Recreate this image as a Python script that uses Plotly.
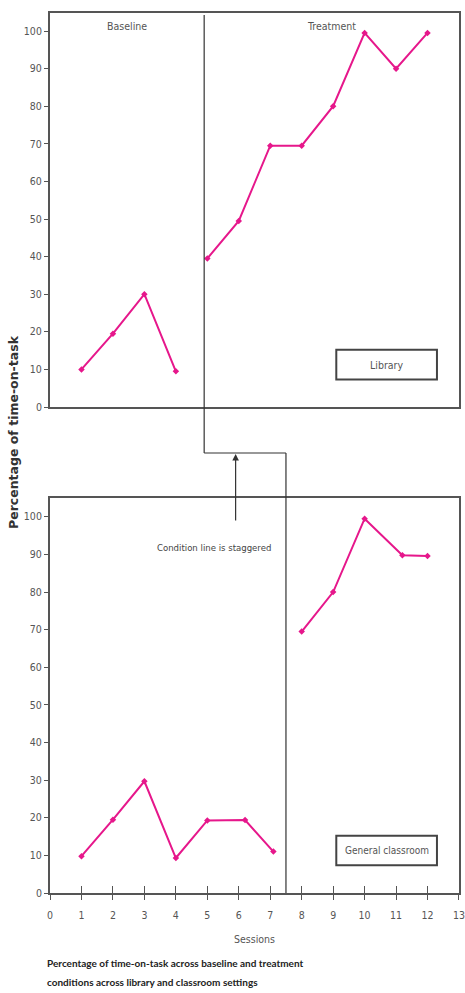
import plotly.graph_objects as go

# ---------------- data ----------------
sessions_lib_base = [1, 2, 3, 4]
values_lib_base = [10, 19.5, 30, 9.5]
sessions_lib_treat = [5, 6, 7, 8, 9, 10, 11, 12]
values_lib_treat = [39.5, 49.5, 69.5, 69.5, 80, 99.5, 90, 99.5]

sessions_cls_base = [1, 2, 3, 4, 5, 6.2, 7.1]
values_cls_base = [9.8, 19.5, 29.7, 9.3, 19.3, 19.4, 11]
sessions_cls_treat = [8, 9, 10, 11.2, 12]
values_cls_treat = [69.5, 80, 99.5, 89.8, 89.6]

x_ticks = list(range(0, 14))
y_ticks = list(range(0, 101, 10))

phase_change_library = 4.9
phase_change_classroom = 7.5
arrow_session = 5.9

# ---------------- style ----------------
PINK = "#e6178b"
FRAME = "#555555"
LINE = "#333333"
TXT = "#555555"
NARROW = "DejaVu Sans Condensed, Liberation Sans Narrow, sans-serif"

H = 993.0
L, R = 50, 6
PW = 465 - L - R
def py(px):  # pixel row -> paper fraction
    return 1 - px / H
def px_(x):  # pixel column -> paper fraction
    return (x - L) / PW

fig = go.Figure()

def series(x, y, xa, ya):
    fig.add_trace(go.Scatter(
        x=x, y=y, xaxis=xa, yaxis=ya, mode="lines+markers",
        line=dict(color=PINK, width=2),
        marker=dict(symbol="diamond", size=5, color=PINK),
        showlegend=False, hoverinfo="skip"))

series(sessions_lib_base, values_lib_base, "x", "y")
series(sessions_lib_treat, values_lib_treat, "x", "y")
series(sessions_cls_base, values_cls_base, "x2", "y2")
series(sessions_cls_treat, values_cls_treat, "x2", "y2")
# invisible trace so the inside-tick overlay axis is drawn
fig.add_trace(go.Scatter(x=[0], y=[0], xaxis="x3", yaxis="y2", mode="markers",
                         marker=dict(opacity=0), showlegend=False, hoverinfo="skip"))

top_dom = [py(407), py(13)]
bot_dom = [py(893), py(498)]

tickfont = dict(family=NARROW, size=10.5, color=TXT)
XR = [-0.0005, 13.0005]

fig.update_layout(
    width=465, height=993,
    margin=dict(l=L, r=R, t=0, b=0, pad=0),
    paper_bgcolor="white", plot_bgcolor="white",
    xaxis=dict(domain=[0, 1], range=XR, anchor="y", automargin=False,
               showgrid=False, zeroline=False, showticklabels=False, ticks="",
               showline=True, mirror=True, linecolor=FRAME, linewidth=2),
    yaxis=dict(domain=top_dom, range=[0, 104.8], anchor="x", automargin=False,
               tickvals=y_ticks, ticks="outside", ticklen=4, tickcolor=FRAME,
               tickfont=tickfont, showgrid=False, zeroline=False,
               showline=True, mirror=True, linecolor=FRAME, linewidth=2),
    xaxis2=dict(domain=[0, 1], range=XR, anchor="y2", automargin=False,
                tickvals=x_ticks, ticks="outside", ticklen=5, tickcolor=FRAME,
                ticklabelstandoff=6,
                tickfont=tickfont, showgrid=False, zeroline=False,
                showline=True, mirror=True, linecolor=FRAME, linewidth=2),
    xaxis3=dict(overlaying="x2", range=XR, anchor="y2", side="bottom", automargin=False,
                tickvals=x_ticks, ticks="inside", ticklen=7, tickcolor=FRAME,
                showticklabels=False, showgrid=False, zeroline=False, showline=False),
    yaxis2=dict(domain=bot_dom, range=[0, 105], anchor="x2", automargin=False,
                tickvals=y_ticks, ticks="outside", ticklen=4, tickcolor=FRAME,
                tickfont=tickfont, showgrid=False, zeroline=False,
                showline=True, mirror=True, linecolor=FRAME, linewidth=2),
)

# staggered condition line
shapes = [
    dict(type="line", xref="x", yref="paper", x0=phase_change_library, x1=phase_change_library,
         y0=py(453), y1=py(15), line=dict(color=LINE, width=1.2)),
    dict(type="line", xref="x", yref="paper", x0=phase_change_library, x1=phase_change_classroom,
         y0=py(453), y1=py(453), line=dict(color=LINE, width=1.2)),
    dict(type="line", xref="x2", yref="paper", x0=phase_change_classroom, x1=phase_change_classroom,
         y0=py(893), y1=py(453), line=dict(color=LINE, width=1.2)),
    # setting label boxes
    dict(type="rect", xref="x", yref="y", x0=9.1, x1=12.3, y0=7.3, y1=15.2,
         line=dict(color="#444444", width=2), fillcolor="white"),
    dict(type="rect", xref="x2", yref="y2", x0=9.1, x1=12.3, y0=7.4, y1=15.2,
         line=dict(color="#444444", width=2), fillcolor="white"),
]
fig.update_layout(shapes=shapes)

lbl = dict(family=NARROW, size=10.5, color=TXT)
cap = dict(family="Lato, Liberation Sans, sans-serif", size=10, color="#222222")
ann = [
    dict(x=2.45, y=101.3, xref="x", yref="y", text="Baseline", showarrow=False, font=lbl),
    dict(x=8.95, y=101.3, xref="x", yref="y", text="Treatment", showarrow=False, font=lbl),
    dict(x=10.7, y=11.25, xref="x", yref="y", text="Library", showarrow=False, font=lbl),
    dict(x=10.7, y=11.3, xref="x2", yref="y2", text="General classroom", showarrow=False,
         font=dict(family=NARROW, size=10, color=TXT)),
    dict(x=5.2, y=91.8, xref="x2", yref="y2", text="Condition line is staggered",
         showarrow=False, font=dict(family=NARROW, size=9.5, color="#444444")),
    dict(x=arrow_session, y=py(454), xref="x2", yref="paper", text="", showarrow=True,
         ax=0, ay=68, arrowhead=2, arrowsize=1.1, arrowwidth=1.2, arrowcolor=LINE),
    dict(x=6.5, y=py(947), xref="x2", yref="paper", text="Sessions", showarrow=False, font=lbl),
    dict(x=px_(14), y=py(432), xref="paper", xanchor="center", yref="paper",
         text="<b>Percentage of time-on-task</b>", textangle=-90, showarrow=False,
         font=dict(family="DejaVu Sans, Verdana, sans-serif", size=12.5, color="#333333")),
    dict(x=px_(45), y=py(971), xref="paper", yref="paper", xanchor="left",
         text="<b>Percentage of time-on-task across baseline and treatment</b>", showarrow=False,
         font=cap),
    dict(x=px_(45), y=py(990), xref="paper", yref="paper", xanchor="left",
         text="<b>conditions across library and classroom settings</b>", showarrow=False,
         font=cap),
]
fig.update_layout(annotations=ann)

fig.write_html(
    "out.html",
    config={"displayModeBar": False},
    post_script="document.body.style.margin='0';document.body.style.overflow='hidden';",
)
